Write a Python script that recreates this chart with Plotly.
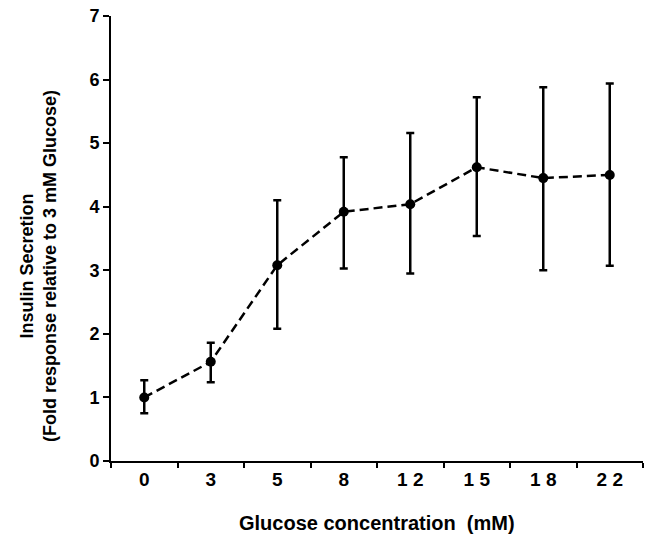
import plotly.graph_objects as go

categories = ["0", "3", "5", "8", "12", "15", "18", "22"]
tick_labels = ["0", "3", "5", "8", "1 2", "1 5", "1 8", "2 2"]
means = [1.00, 1.56, 3.08, 3.92, 4.04, 4.62, 4.45, 4.50]
err_upper = [1.27, 1.86, 4.10, 4.78, 5.16, 5.72, 5.88, 5.94]
err_lower = [0.75, 1.24, 2.08, 3.03, 2.95, 3.54, 3.00, 3.07]

y_title = "Insulin Secretion<br>(Fold response relative to 3 mM Glucose)"
x_title = "Glucose concentration  (mM)"

plus = [u - m for u, m in zip(err_upper, means)]
minus = [m - l for m, l in zip(means, err_lower)]

FONT = "Liberation Sans, Arial, sans-serif"

fig = go.Figure()
fig.add_trace(go.Scatter(
    x=categories, y=means, mode="lines+markers",
    line=dict(color="black", width=2.5, dash="9px,5px"),
    marker=dict(color="black", size=10),
    error_y=dict(type="data", symmetric=False, array=plus, arrayminus=minus,
                 color="black", thickness=2.5, width=4),
    showlegend=False,
))

fig.update_layout(
    width=646, height=535,
    margin=dict(l=111, r=3, t=16, b=74),
    paper_bgcolor="white", plot_bgcolor="white",
    font=dict(family=FONT, color="black"),
    xaxis=dict(
        type="category", range=[-0.5, 7.5],
        tickmode="array", tickvals=categories, ticktext=tick_labels,
        tickson="boundaries", ticks="outside", ticklen=5, tickwidth=1.5,
        tickcolor="black",
        showline=True, linecolor="black", linewidth=2,
        showgrid=False, zeroline=False,
        tickfont=dict(size=19, weight="bold"),
    ),
    yaxis=dict(
        range=[0, 7], tickvals=[0, 1, 2, 3, 4, 5, 6, 7],
        ticks="outside", ticklen=6, tickwidth=2, tickcolor="black",
        showline=True, linecolor="black", linewidth=2,
        showgrid=False, zeroline=False, ticklabeloverflow="allow",
        tickfont=dict(size=18, weight="bold"),
    ),
    annotations=[
        dict(text=y_title, textangle=-90, xref="paper", yref="paper",
             x=0, xshift=-73, y=0.438, xanchor="center", yanchor="middle",
             showarrow=False, font=dict(size=18, weight="bold")),
        dict(text=x_title, xref="paper", yref="paper",
             x=0.5, y=0, yshift=-62, xanchor="center", yanchor="middle",
             showarrow=False, font=dict(size=20, weight="bold")),
    ],
)

fig.write_html("out.html", config={"displayModeBar": False},
               post_script="document.body.style.margin='0';document.body.style.overflow='hidden';")
